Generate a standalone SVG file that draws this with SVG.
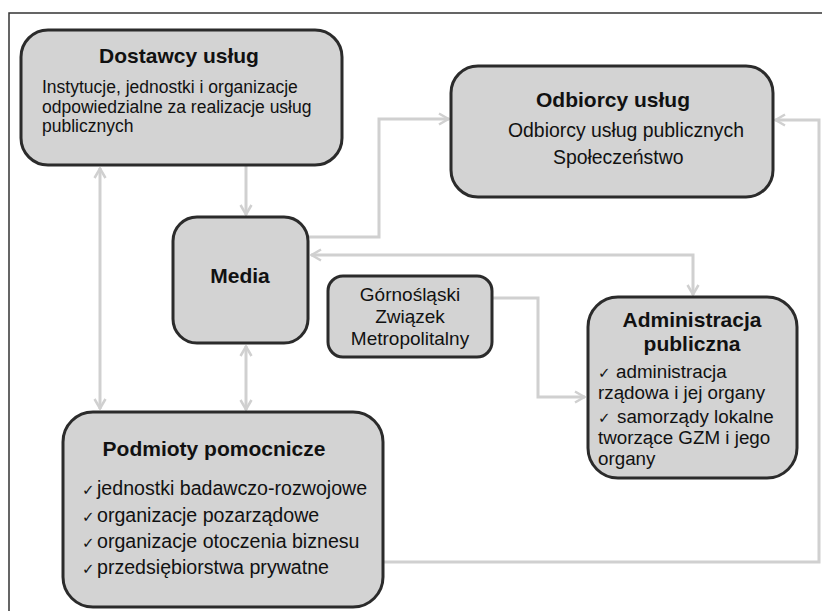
<svg xmlns="http://www.w3.org/2000/svg" width="822" height="611" viewBox="0 0 822 611">
<style>
.box{fill:#d3d3d3;stroke:#2b2b2b;stroke-width:3}
text{font-family:"Liberation Sans",Arial,sans-serif;fill:#111}
.t{font-weight:bold;font-size:21px;text-anchor:middle}
.ck{font-family:"DejaVu Sans",sans-serif;font-size:15px}
.c{fill:none;stroke:#d0d0d0;stroke-width:3}
</style>
<defs>
<marker id="arr" viewBox="0 0 12 14" refX="11" refY="7" markerWidth="12" markerHeight="14" markerUnits="userSpaceOnUse" orient="auto-start-reverse">
<path d="M1,1.5 L10.5,7 L1,12.5" fill="none" stroke="#d0d0d0" stroke-width="2.5"/>
</marker>
</defs>
<rect width="822" height="611" fill="#fff"/>
<path d="M9,611 V13 H822" fill="none" stroke="#333" stroke-width="1.5"/>
<g id="connectors">
<path class="c" d="M100,168 V409" marker-start="url(#arr)" marker-end="url(#arr)"/>
<path class="c" d="M246,166 V215" marker-end="url(#arr)"/>
<path class="c" d="M246,346 V410" marker-start="url(#arr)" marker-end="url(#arr)"/>
<path class="c" d="M309,237 H379 V119 H449" marker-end="url(#arr)"/>
<path class="c" d="M311,255 H693 V295" marker-start="url(#arr)" marker-end="url(#arr)"/>
<path class="c" d="M493,298 H538 V397 H585" marker-end="url(#arr)"/>
<path class="c" d="M384,562 H819 V120 H775" marker-end="url(#arr)"/>
</g>
<g id="dostawcy">
<rect class="box" x="21" y="30" width="321" height="135" rx="27"/>
<text class="t" x="179" y="63">Dostawcy usług</text>
<text x="42" y="93" font-size="17.5">Instytucje, jednostki i organizacje</text>
<text x="42" y="112.5" font-size="17.5">odpowiedzialne za realizacje usług</text>
<text x="42" y="132" font-size="17.5">publicznych</text>
</g>
<g id="odbiorcy">
<rect class="box" x="451" y="66" width="322" height="131" rx="27"/>
<text class="t" x="613" y="107">Odbiorcy usług</text>
<text x="508" y="137" font-size="19.4">Odbiorcy usług publicznych</text>
<text x="553" y="164" font-size="19.4">Społeczeństwo</text>
</g>
<g id="media">
<rect class="box" x="173" y="217" width="135" height="126" rx="24"/>
<text class="t" x="240" y="283">Media</text>
</g>
<g id="gzm">
<rect class="box" x="328" y="276" width="164" height="81" rx="15"/>
<text x="410" y="301" font-size="19" text-anchor="middle">Górnośląski</text>
<text x="410" y="323" font-size="19" text-anchor="middle">Związek</text>
<text x="410" y="345" font-size="19" text-anchor="middle">Metropolitalny</text>
</g>
<g id="administracja">
<rect class="box" x="588" y="297" width="209" height="181" rx="30"/>
<text class="t" x="692" y="327" font-size="20.5">Administracja</text>
<text class="t" x="692" y="351" font-size="20.5">publiczna</text>
<text font-size="18.8" y="377.5"><tspan class="ck" x="598">✓</tspan><tspan x="616">administracja</tspan></text>
<text font-size="18.8" x="598" y="398.7">rządowa i jej organy</text>
<text font-size="18.8" y="422.5"><tspan class="ck" x="598">✓</tspan><tspan x="617">samorządy lokalne</tspan></text>
<text font-size="18.8" x="598" y="443.7">tworzące GZM i jego</text>
<text font-size="18.8" x="598" y="464.9">organy</text>
</g>
<g id="podmioty">
<rect class="box" x="63" y="412" width="320" height="195" rx="30"/>
<text class="t" x="214" y="456">Podmioty pomocnicze</text>
<text font-size="19.6" y="495"><tspan class="ck" x="82">✓</tspan><tspan x="97">jednostki badawczo-rozwojowe</tspan></text>
<text font-size="19.6" y="521.5"><tspan class="ck" x="82">✓</tspan><tspan x="97">organizacje pozarządowe</tspan></text>
<text font-size="19.6" y="548"><tspan class="ck" x="82">✓</tspan><tspan x="97">organizacje otoczenia biznesu</tspan></text>
<text font-size="19.6" y="574"><tspan class="ck" x="82">✓</tspan><tspan x="97">przedsiębiorstwa prywatne</tspan></text>
</g>
</svg>
